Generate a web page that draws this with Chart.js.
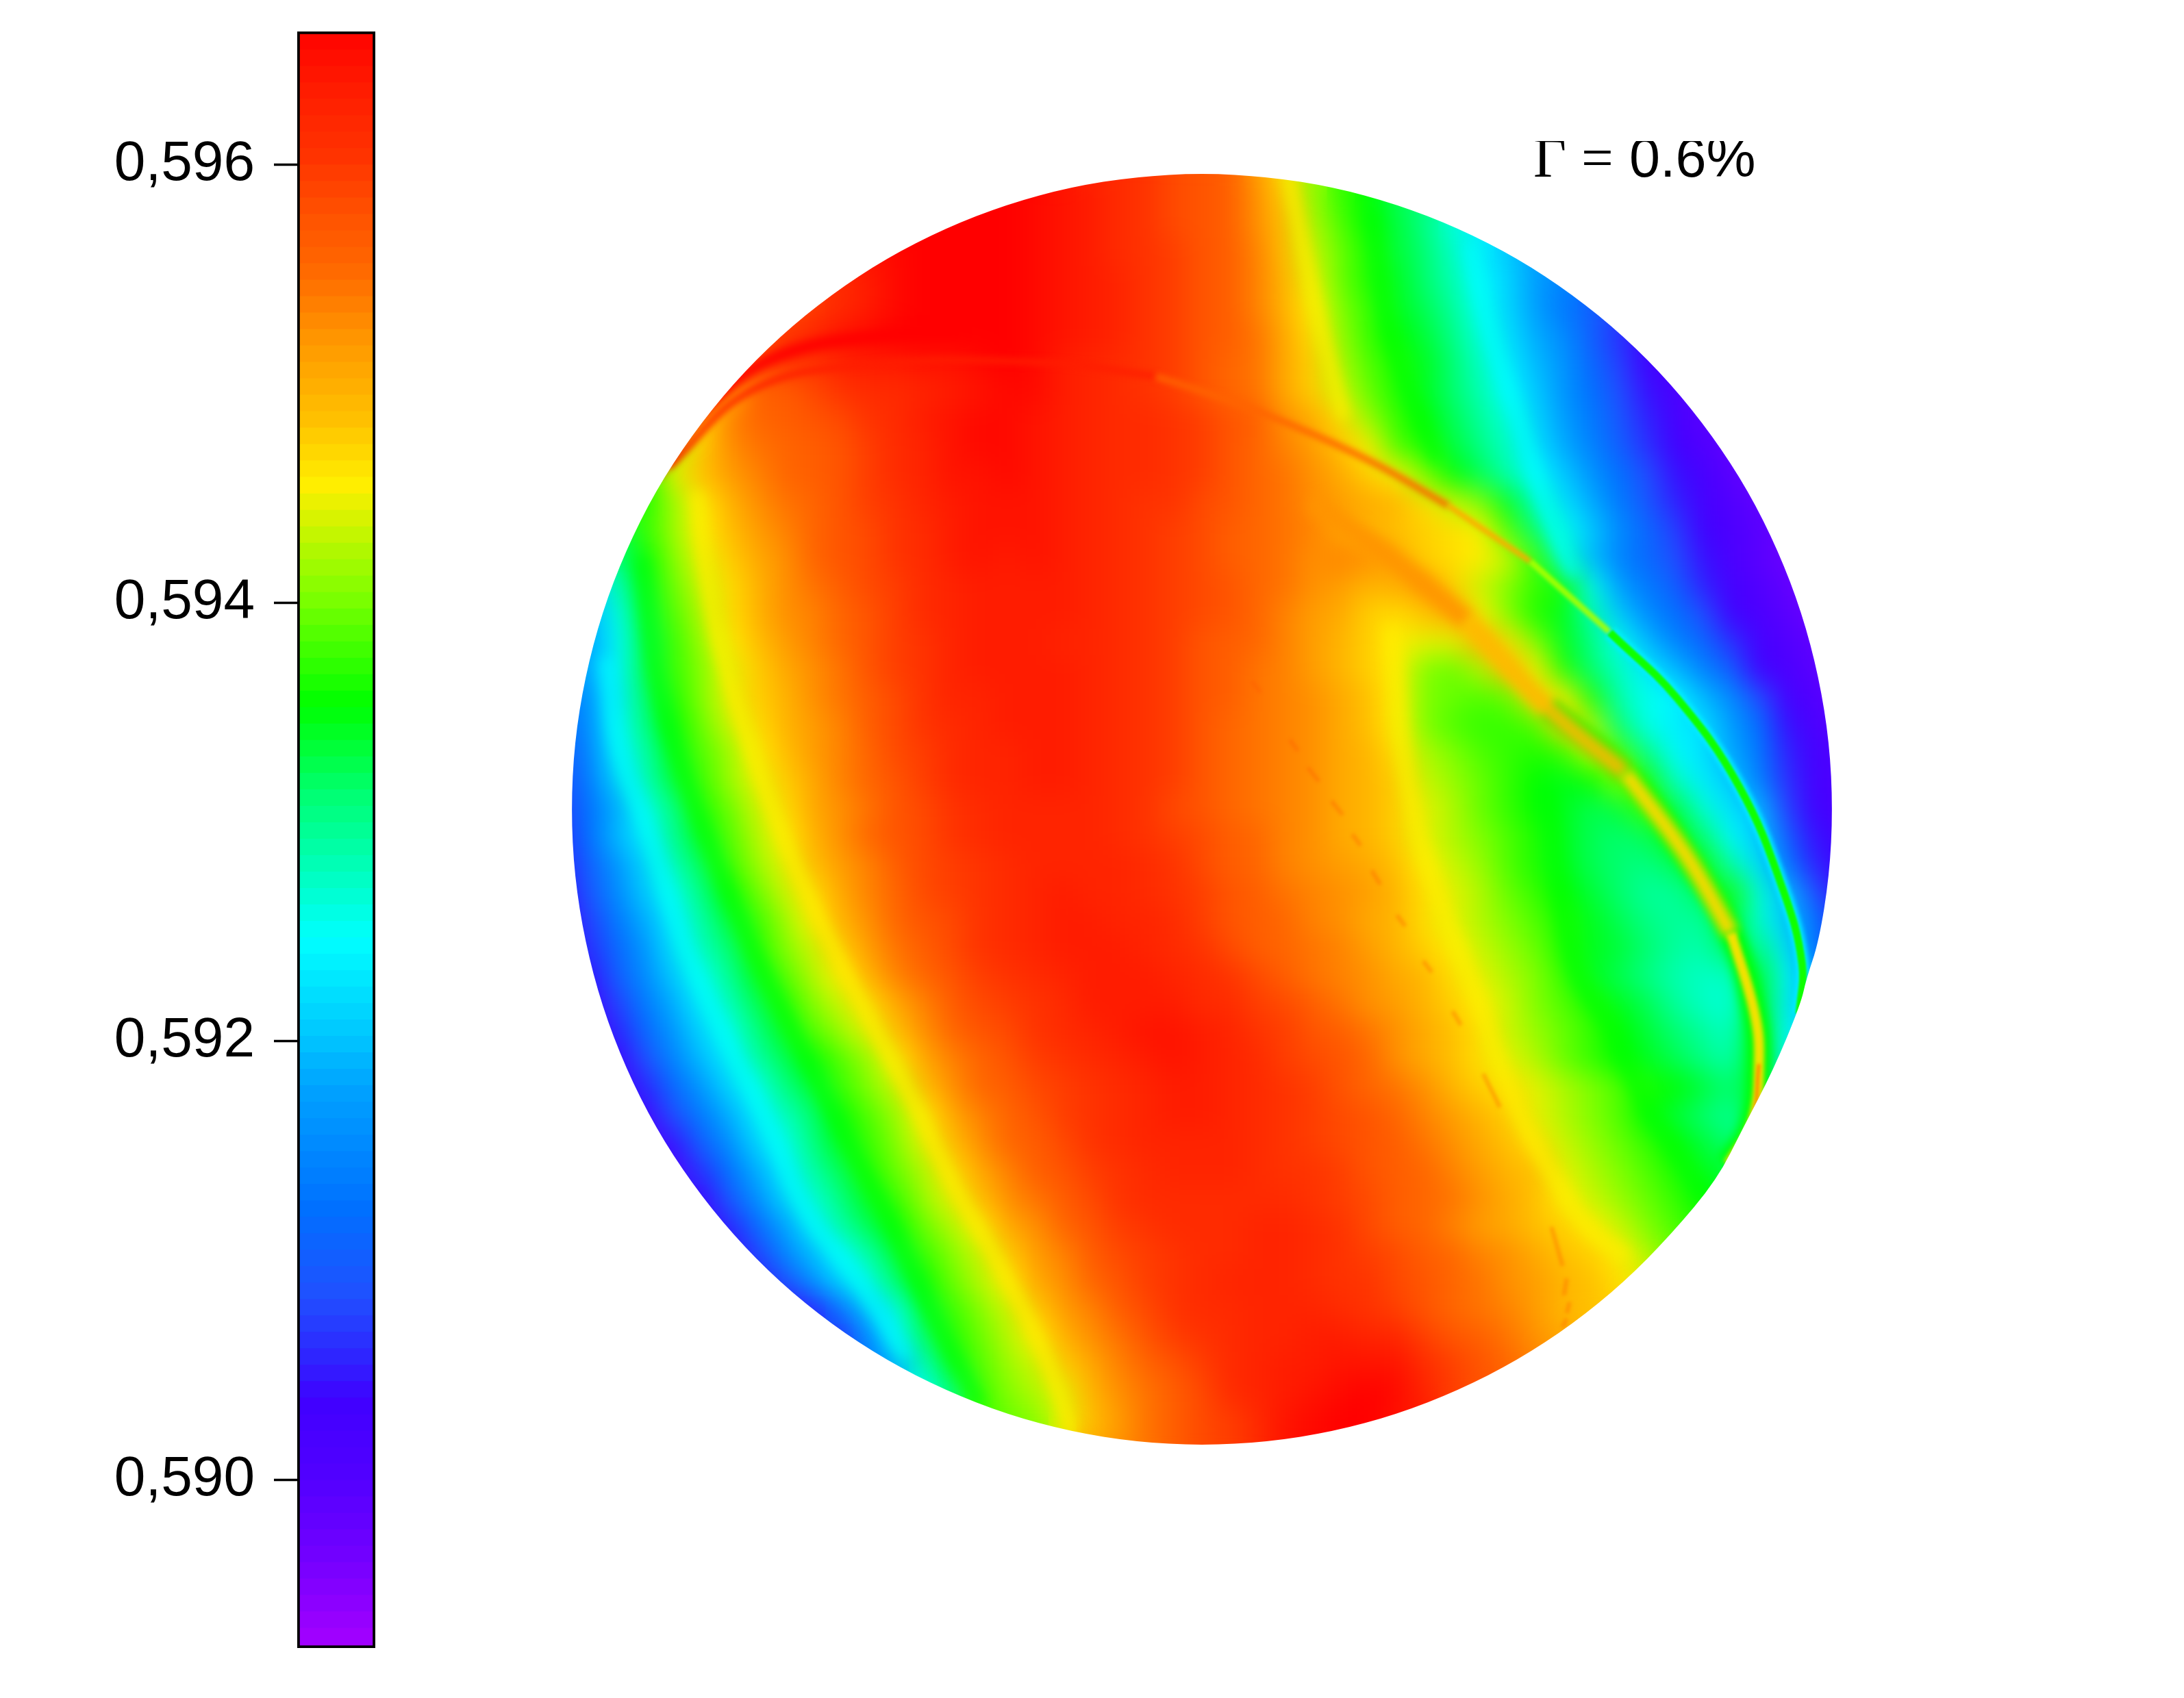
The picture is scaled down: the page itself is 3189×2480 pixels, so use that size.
<!doctype html>
<html lang="en">
  <head>
    <meta charset="utf-8">
    <title>Gamma 0.6% map</title>
    <style>
      * { margin: 0; padding: 0; }
      body { background: #fff; width: 3189px; height: 2480px; overflow: hidden; position: relative; }
      #barChart { position: absolute; left: 0; top: 0; }
      #discChart { position: absolute; left: 779px; top: 206px; }
    </style>
  </head>
  <body>
    <canvas id="barChart" width="620" height="2480"></canvas>
    <canvas id="discChart" width="1952" height="1952"></canvas>
    <script src="https://cdn.jsdelivr.net/npm/chart.js/dist/chart.umd.min.js"></script>
    <script>
// axis ticks of the colour bar
const tickValues = [0.590, 0.592, 0.594, 0.596];
const axisMin = 0.589232;
const axisMax = 0.596606;

// every level below = (value - 0.589) * 10000
const levelEdges = [2.5,3.25,4,4.75,5.5,6.25,7,7.75,8.5,9.25,10,10.75,11.5,12.25,13,13.75,14.5,15.25,16,16.75,17.5,18.25,19,19.75,20.5,21.25,22,22.75,23.5,24.25,25,25.75,26.5,27.25,28,28.75,29.5,30.25,31,31.75,32.5,33.25,34,34.75,35.5,36.25,37,37.75,38.5,39.25,40,40.75,41.5,42.25,43,43.75,44.5,45.25,46,46.75,47.5,48.25,49,49.75,50.5,51.25,52,52.75,53.5,54.25,55,55.75,56.5,57.25,58,58.75,59.5,60.25,61,61.75,62.5,63.25,64,64.75,65.5,66.25,67,67.75,68.5,69.25,70,70.75,71.5,72.25,73,73.75,74.5,75.25,76];
const stopLevels = [2.4,6.3,10,13.2,14.9,18,22,27.3,30,34.3,38,41,45,50,52,55,58,61.4,65,67,70,73,76];
const stopColors = ['#a000ff','#7000ff','#5000ff','#4000ff','#3020ff','#2050ff','#0070ff','#00a0ff','#00c8ff','#00ffff','#00ffb0','#00ff70','#00ff00','#80ff00','#b0f800','#ffee00','#ffc000','#ff9a00','#ff6600','#ff5500','#ff3300','#ff1c00','#ff0000'];

// each row is centred on column 0
const gridRows = [
[72,71,70,68,67,66,61,56,50],
[76,76,75,74,73,71,70,68,67,66,62,57,51,47,45,42,40],
[76,76,76,76,75,74,73,71,70,68,67,66,62,58,52,48,45,43,40,36,33],
[74,75,76,76,76,76,75,74,73,71,70,69,67,66,63,58,53,49,46,43,41,37,33,30,27],
[71,73,75,76,76,76,76,75,74,73,72,70,69,67,66,63,59,54,49,46,44,41,38,34,31,27,24],
[67,69,71,73,75,76,76,76,76,75,74,73,72,70,69,67,66,63,59,55,50,47,44,42,39,35,31,27,23,20,17],
[68,70,72,74,75,76,76,76,76,76,75,74,73,72,70,69,67,66,64,60,56,51,47,45,43,40,36,32,28,25,20,16,13],
[62,66,70,70,72,73,73,74,74,75,76,75,73,72,71,70,69,67,65,64,60,57,52,48,46,44,41,37,33,29,26,21,17,13,11],
[55,58,66,66,68,70,71,71,72,73,74,75,75,73,72,71,70,69,67,65,64,60,57,53,49,46,44,41,38,34,30,26,22,18,14,11,9],
[56,63,65,66,67,68,70,71,73,74,75,75,74,73,72,71,71,70,69,67,66,62,60,56,51,47,45,42,39,36,31,27,23,19,15,12,9],
[52,57,62,64,65,66,67,69,71,72,74,75,75,74,73,72,71,71,70,69,67,65,63,61,58,55,48,46,43,40,37,32,28,24,20,16,13,10,8],
[45,54,58,61,63,65,66,67,69,71,72,74,74,75,74,73,72,71,71,70,69,67,65,64,62,60,57,55,50,45,42,38,34,30,26,22,18,14,12,9,7],
[46,51,55,59,62,64,65,67,69,70,72,73,74,74,74,73,72,71,70,70,68,67,65,64,62,61,60,59,56,53,50,44,37,32,28,23,19,15,12,10,8],
[42,47,51,55,58,61,63,65,67,68,70,71,73,74,74,74,73,72,71,70,69,68,66,65,64,63,60,59,58,57,56,55,48,41,35,30,25,21,17,13,11,9,7],
[40,45,50,54,57,60,62,65,67,68,70,71,73,74,73,74,73,72,71,70,69,68,66,65,64,62,63,62,60,57,56,55,53,47,37,29,24,21,18,14,11,9,7],
[30,37,44,49,53,56,59,62,64,66,68,69,71,72,73,73,73,73,72,71,70,69,68,67,65,64,62,61,59,60,61,57,53,50,47,46,35,27,23,20,15,12,10,8,6],
[28,35,43,48,52,56,59,62,63,65,67,69,71,72,73,73,73,73,72,71,70,69,68,67,65,63,61,60,57,56,58,60,55,50,46,44,38,30,25,22,18,13,11,9,7],
[27,34,42,47,51,55,58,61,63,65,67,69,70,72,73,73,73,72,72,71,70,69,67,66,65,63,61,59,57,55,54,54,60,56,50,44,40,35,29,24,21,16,12,10,8],
[25,28,34,42,47,50,54,57,60,62,64,67,69,70,72,73,73,73,73,72,71,70,69,67,66,64,63,61,59,57,55,50,49,52,59,55,46,41,37,33,29,24,20,13,11,9,7],
[22,26,33,41,46,50,54,57,59,62,64,66,68,70,72,72,73,73,73,72,71,70,69,67,66,64,63,62,60,58,55,50,49,48,49,57,55,46,38,35,34,29,25,18,12,10,8],
[21,25,34,40,45,49,53,56,59,61,63,66,68,70,71,72,73,73,73,72,71,70,69,67,65,64,63,62,60,58,55,50,48,47,47,48,57,52,41,35,33,32,27,22,14,11,9],
[19,24,33,38,44,48,51,55,58,61,63,65,68,69,71,72,72,73,73,72,71,70,69,67,65,64,63,62,60,59,56,52,50,48,47,46,47,53,48,40,34,32,28,23,15,12,10],
[18,23,31,37,43,47,51,54,57,60,63,65,67,69,71,72,72,73,73,72,71,70,69,67,65,64,63,62,60,59,57,53,51,49,47,45,44,45,51,46,37,33,30,24,16,12,10],
[17,22,28,35,40,46,49,53,56,60,62,64,67,68,70,71,72,72,72,72,71,70,68,67,65,64,63,62,60,59,57,54,52,49,47,45,44,42,43,48,43,36,32,29,17,13,11],
[16,22,29,33,39,44,48,52,55,59,62,65,67,68,70,71,72,72,72,72,71,70,69,68,66,65,63,62,60,59,57,54,52,50,48,46,44,42,41,42,46,41,34,30,20,14,12],
[15,20,26,31,37,42,47,51,54,58,61,63,66,68,69,70,71,72,72,72,72,71,70,68,66,65,63,62,61,60,58,55,53,51,48,46,44,42,41,40,42,46,38,32,23,15,13],
[14,19,25,30,35,40,45,49,53,56,60,63,65,68,69,70,71,72,73,72,72,71,70,69,67,66,64,63,62,61,59,56,54,52,49,47,45,43,41,39,39,42,46,36,29,18,14],
[13,17,23,28,33,38,43,47,51,55,59,62,65,67,68,70,71,72,73,73,72,72,71,69,67,66,65,63,62,60,59,56,54,52,50,48,46,44,42,40,39,39,44,36,30,22,16],
[13,16,21,26,32,37,41,46,50,53,57,61,64,66,68,70,71,72,73,73,73,72,71,70,68,66,65,64,63,61,59,57,55,53,51,49,46,44,43,41,39,38,42,40,32,22,17],
[14,20,25,30,35,39,44,48,52,55,59,63,65,67,69,70,71,72,73,73,73,72,71,70,68,66,64,63,62,60,59,56,54,52,50,47,44,42,40,38,37,37,44,34,26],
[12,17,23,28,33,37,42,46,50,53,56,60,63,66,68,69,70,71,73,73,73,73,71,71,69,68,66,64,62,61,59,57,55,53,50,48,46,44,42,39,37,36,44,33,28],
[11,15,21,26,31,35,40,44,48,51,54,58,62,65,67,68,70,71,72,73,74,74,73,72,70,69,67,66,64,62,60,58,56,53,51,49,47,45,43,41,39,37,45,34,30],
[13,18,24,29,33,38,42,45,48,51,55,60,63,65,67,69,70,71,72,73,74,73,72,71,69,68,67,65,62,60,58,56,54,52,49,47,45,44,42,40,38,45,33],
[12,15,21,26,31,35,40,43,47,50,53,58,62,65,66,68,69,70,71,72,73,73,72,71,70,69,67,65,64,62,59,57,56,54,52,50,48,46,45,43,41,44,32],
[12,18,23,28,33,37,41,45,48,51,55,60,63,65,67,69,70,71,72,73,73,72,71,70,69,68,67,65,63,61,59,57,54,52,50,48,45,43,41,39,44],
[9,14,20,25,31,35,40,44,47,50,54,58,62,65,66,68,70,71,72,72,72,72,71,70,69,68,67,66,64,62,60,58,56,53,51,49,47,45,43,41,40],
[10,16,22,28,33,38,42,46,49,52,56,60,63,66,67,69,70,71,72,72,72,71,70,70,69,67,66,65,63,61,59,58,54,52,50,48,46,44,43],
[13,19,25,31,36,40,44,47,51,54,58,62,64,66,68,70,71,71,71,71,71,71,70,69,68,66,65,64,62,60,58,55,53,51,49,47,45],
[11,15,21,27,33,38,42,45,49,52,55,60,62,65,67,69,70,71,71,71,72,72,71,70,68,66,65,63,61,60,58,57,55,53,50,48,46],
[12,17,24,29,34,38,43,47,50,53,57,61,63,66,68,69,70,71,71,72,72,71,70,69,68,66,65,63,62,60,58,57,55,52,49],
[14,18,25,31,35,41,45,49,52,55,60,62,65,67,69,70,71,72,72,72,71,70,70,68,67,65,64,62,61,59,58,56,54],
[12,15,21,30,35,43,47,50,53,57,61,63,66,68,70,71,71,72,72,72,71,70,69,67,65,64,63,61,59,58,57],
[16,24,34,41,46,49,52,55,59,62,64,67,69,70,71,72,72,73,73,72,72,69,67,66,64,62,60],
[22,28,37,44,48,51,53,57,60,63,65,67,69,71,72,73,73,74,74,74,71,69,67,65,63],
[34,40,47,50,52,54,59,62,64,66,68,71,72,73,74,75,76,75,72,69,67],
[47,49,50,54,58,61,64,66,68,69,71,74,75,76,76,74,73],
[60,62,64,66,68,69,71,74,75]
];

// colour stripes followed across the disc
const yellowLeftX = [-18.15,-17.65,-16.9,-15.15,-13.45,-11.7,-10.15,-8.9,-7.3,-5.75,-4.65];
const yellowLeftY = [-11.4,-7.45,-4.35,0.75,4.55,8,10.95,13.55,16.35,19.4,22.45];
const greenLeftX = [-20.15,-19.55,-18.6,-17.85,-16.25,-14.7,-12.95,-11.4,-9.65,-7.95];
const greenLeftY = [-9.05,-4.35,-1.2,0.9,4.8,8,11.55,14.45,18.25,21.45];
const cyanLeftX = [-21.4,-20.95,-19.85,-18.6,-17.2,-15.6,-14.2,-12.35,-10.6];
const cyanLeftY = [-5.45,-2.3,0.9,4.8,8,11.25,14.45,16.9,19.7];
const yellowTopX = [3.1,4.1,5.1];
const yellowTopY = [-22.8,-18.05,-14.05];
const greenTopX = [6.1,6.75,8.45];
const greenTopY = [-21.55,-17.05,-12.5];
const cyanTopX = [9.6,10.35,11.25,12.4,13.35];
const cyanTopY = [-20.3,-17.05,-14.3,-10.7,-8.35];
const yellowRightX = [6.75,7.45,8.45,9.7,11.4,13.05,14,15.3];
const yellowRightY = [-6.55,-0.6,3,6.25,10.95,13.85,15.15,16.1];
const greenRightX = [12.4,13.35,14.75,15.9,17.05,18.05];
const greenRightY = [-0.8,5.55,8,10.6,12.35,13.95];

// sharp ridges that are narrower than a grid cell
const arcOneX = [-1.65,0.35,2.5,6.05,8.85,11.8,14.65,17.05,19.3,20.85,21.55,21.45];
const arcOneY = [-15.55,-14.9,-14.1,-12.5,-10.9,-8.9,-6.35,-4,-0.8,2.85,5.55,7.35];
const arcTwoX = [3.95,6.75,9.55,12.4,15.2,17.35,19,19.85,20,19.75,18.9];
const arcTwoY = [-11.05,-9.05,-6.75,-3.65,-1.3,1.6,4.45,7.35,9.15,11.3,12.75];
const crestOneX = [-19.65,-17.65,-15.15,-11.15,-8.65];
const crestOneY = [-12.05,-14.55,-16.3,-17.05,-17.15];
const crestTwoX = [-19.15,-16.15,-12.15,-5.65,-1.65];
const crestTwoY = [-12.3,-15.05,-15.95,-16.05,-15.55];
const streakX = [1.8,2.1,null,3.15,3.45,null,3.8,4.2,null,4.65,5.05,null,5.4,5.7,null,6.1,6.4,null,7,7.3,null,7.95,8.25,null,9,9.3,null,10.1,10.7,null,12.55,12.95,null,13.1,13,null,13.2,13.1,null,13.1,12.95];
const streakY = [-4.6,-4.2,null,-2.5,-2.1,null,-1.5,-1,null,-0.3,0.2,null,0.9,1.3,null,2.2,2.7,null,3.8,4.2,null,5.45,5.85,null,7.25,7.75,null,9.5,10.7,null,15,16.4,null,16.85,17.45,null,17.7,18.1,null,18.3,18.6];

// outline of the disc
const rimX = [22.65,22.53,22.15,21.7,21.5,20.5,19.45,18.5,16.83,15.16,13.31,11.33,9.21,7,4.71,2.37,0,-2.37,-4.71,-7,-9.21,-11.33,-13.31,-15.16,-16.83,-18.32,-19.62,-20.69,-21.54,-22.15,-22.53,-22.65,-22.53,-22.15,-21.54,-20.69,-19.62,-18.32,-16.83,-15.16,-13.31,-11.33,-9.21,-7,-4.71,-2.37,0,2.37,4.71,7,9.21,11.33,13.31,15.16,16.83,18.32,19.62,20.69,21.54,22.15,22.53];
const rimY = [0,2.39,4.75,6.1,7,9.4,11.4,13.3,15.29,16.98,18.49,19.79,20.87,21.73,22.35,22.72,22.85,22.72,22.35,21.73,20.87,19.79,18.49,16.98,15.29,13.43,11.43,9.29,7.06,4.75,2.39,0,-2.39,-4.75,-7.06,-9.29,-11.43,-13.43,-15.29,-16.98,-18.49,-19.79,-20.87,-21.73,-22.35,-22.72,-22.85,-22.72,-22.35,-21.73,-20.87,-19.79,-18.49,-16.98,-15.29,-13.43,-11.43,-9.29,-7.06,-4.75,-2.39];

function hexToRgb(hex) {
  return [1, 3, 5].map(i => parseInt(hex.slice(i, i + 2), 16));
}

function colorFor(level) {
  let i = 0;
  while (i < stopLevels.length - 2 && level > stopLevels[i + 1]) i++;
  const t = Math.min(1, Math.max(0, (level - stopLevels[i]) / (stopLevels[i + 1] - stopLevels[i])));
  const a = hexToRgb(stopColors[i]);
  const b = hexToRgb(stopColors[i + 1]);
  const c = a.map((v, k) => Math.round(v + (b[k] - v) * t));
  return 'rgb(' + c.join(',') + ')';
}

const levelToValue = level => 0.589 + level * 1e-4;
const zip = (xs, ys, from, to) => xs.slice(from, to).map((x, i) => ({ x: x, y: ys[from + i] }));

// colour bar
const barDatasets = levelEdges.slice(0, -1).map((edge, i) => ({
  data: [[levelToValue(edge), axisMax]],
  backgroundColor: colorFor(edge),
  borderWidth: 0,
  order: levelEdges.length - i
}));
barDatasets[0].data = [[axisMin, axisMax]];
barDatasets.push({
  data: [[axisMin, axisMax]],
  backgroundColor: 'rgba(0,0,0,0)',
  borderColor: '#000',
  borderWidth: 3.5,
  borderSkipped: false,
  order: -1
});

new Chart(document.getElementById('barChart'), {
  type: 'bar',
  data: { labels: [''], datasets: barDatasets },
  options: {
    responsive: false,
    animation: false,
    events: [],
    layout: { autoPadding: false, padding: { top: 46, bottom: 73, right: 72 } },
    datasets: { bar: { barPercentage: 1, categoryPercentage: 1, grouped: false } },
    plugins: { legend: { display: false }, tooltip: { enabled: false } },
    scales: {
      x: { display: false },
      y: {
        min: axisMin,
        max: axisMax,
        afterBuildTicks: axis => { axis.ticks = tickValues.map(v => ({ value: v })); },
        afterFit: axis => { axis.width = 434; axis.paddingTop = 0; axis.paddingBottom = 0; },
        border: { display: false },
        grid: { drawOnChartArea: false, tickLength: 34, tickWidth: 3.5, tickColor: '#000' },
        ticks: {
          padding: 28,
          color: '#000',
          font: { family: '"Liberation Sans"', size: 82 },
          callback: v => v.toFixed(3).replace('.', ',')
        }
      }
    }
  }
});

// grid cells of the disc
const cellPoints = [];
const cellColors = [];
gridRows.forEach((row, r) => {
  const first = -(row.length - 1) / 2;
  row.forEach((level, c) => {
    cellPoints.push({ x: first + c, y: r - 23 });
    cellColors.push(colorFor(level));
  });
});

function ridge(points, color, width, blur) {
  return {
    data: points,
    showLine: true,
    tension: 0.4,
    borderColor: color,
    borderWidth: width,
    borderCapStyle: 'butt',
    pointRadius: 0,
    blur: blur
  };
}

const discDatasets = [
  {
    data: cellPoints,
    pointStyle: 'rect',
    pointRadius: 29.5,
    pointBorderWidth: 0,
    pointBackgroundColor: cellColors
  },
  ridge(zip(cyanLeftX, cyanLeftY, 0), 'rgba(0,255,255,0.7)', 18, 10),
  ridge(zip(greenLeftX, greenLeftY, 0), 'rgba(0,255,0,0.7)', 18, 10),
  ridge(zip(yellowLeftX, yellowLeftY, 0), 'rgba(255,238,0,0.8)', 16, 9),
  ridge(zip(cyanTopX, cyanTopY, 0), 'rgba(0,255,255,0.7)', 18, 10),
  ridge(zip(greenTopX, greenTopY, 0), 'rgba(0,255,0,0.7)', 18, 10),
  ridge(zip(yellowTopX, yellowTopY, 0), 'rgba(255,238,0,0.8)', 16, 9),
  ridge(zip(greenRightX, greenRightY, 0), 'rgba(0,255,0,0.7)', 22, 11),
  ridge(zip(yellowRightX, yellowRightY, 0), 'rgba(255,238,0,0.8)', 18, 10),
  ridge(zip(crestOneX, crestOneY, 0), '#ff0000', 18, 7),
  ridge(zip(crestTwoX, crestTwoY, 0), 'rgba(255,30,0,0.75)', 11, 4),
  ridge(zip(arcOneX, arcOneY, 0, 5), 'rgba(255,100,0,0.85)', 10, 4),
  ridge(zip(arcOneX, arcOneY, 4, 6), 'rgba(255,170,0,0.9)', 8, 3),
  ridge(zip(arcOneX, arcOneY, 5, 7), 'rgba(170,255,0,0.9)', 9, 2.5),
  ridge(zip(arcOneX, arcOneY, 6, 12), 'rgba(0,240,255,0.9)', 20, 3),
  ridge(zip(arcOneX, arcOneY, 6, 12), '#10ff00', 11, 1.5),
  ridge(zip(arcTwoX, arcTwoY, 0, 3), 'rgba(255,148,0,0.9)', 30, 9),
  ridge(zip(arcTwoX, arcTwoY, 3, 11), 'rgba(0,255,0,0.9)', 34, 7),
  ridge(zip(arcTwoX, arcTwoY, 2, 5), 'rgba(255,184,0,0.9)', 28, 8),
  ridge(zip(arcTwoX, arcTwoY, 4, 7), 'rgba(255,216,0,0.95)', 24, 7),
  ridge(zip(arcTwoX, arcTwoY, 6, 11), 'rgba(255,224,0,0.95)', 15, 3),
  ridge(zip(arcTwoX, arcTwoY, 8, 11), 'rgba(255,90,0,0.6)', 5, 2),
  ridge(zip(streakX, streakY, 0), 'rgba(255,90,0,0.35)', 6, 2.5)
];
discDatasets.forEach((d, i) => { d.order = 100 - i; d.clip = false; });

// soften the grid cells, then cut the result to the disc outline
const discPlugin = {
  id: 'discPlugin',
  beforeDatasetDraw(chart, args) {
    const blur = chart.data.datasets[args.index].blur;
    if (blur) chart.ctx.filter = 'blur(' + blur + 'px)';
  },
  afterDatasetDraw(chart, args) {
    chart.ctx.filter = 'none';
    if (args.index !== 0) return;
    const tmp = document.createElement('canvas');
    tmp.width = chart.width;
    tmp.height = chart.height;
    const tctx = tmp.getContext('2d');
    tctx.filter = 'blur(20px)';
    tctx.drawImage(chart.canvas, 0, 0);
    chart.ctx.drawImage(tmp, 0, 0);
  },
  afterDatasetsDraw(chart) {
    const ctx = chart.ctx;
    const xs = chart.scales.x;
    const ys = chart.scales.y;
    const px = i => xs.getPixelForValue(rimX[i % rimX.length]);
    const py = i => ys.getPixelForValue(rimY[i % rimY.length]);
    ctx.save();
    ctx.globalCompositeOperation = 'destination-in';
    ctx.beginPath();
    ctx.moveTo((px(0) + px(1)) / 2, (py(0) + py(1)) / 2);
    for (let i = 1; i <= rimX.length; i++) {
      ctx.quadraticCurveTo(px(i), py(i), (px(i) + px(i + 1)) / 2, (py(i) + py(i + 1)) / 2);
    }
    ctx.closePath();
    ctx.fill();
    ctx.restore();

    ctx.save();
    ctx.fillStyle = '#000';
    ctx.textBaseline = 'alphabetic';
    ctx.font = '83px "Liberation Serif"';
    ctx.fillText('Γ', 1460, 52);
    ctx.fillText('=', 1530, 52);
    ctx.font = '81px "Liberation Sans"';
    ctx.fillText('0.6%', 1600, 52);
    ctx.restore();
  }
};

new Chart(document.getElementById('discChart'), {
  type: 'scatter',
  data: { datasets: discDatasets },
  options: {
    responsive: false,
    animation: false,
    events: [],
    layout: { autoPadding: false, padding: 0 },
    plugins: { legend: { display: false }, tooltip: { enabled: false } },
    scales: {
      x: { display: false, min: -24, max: 24 },
      y: { display: false, min: -24, max: 24, reverse: true }
    }
  },
  plugins: [discPlugin]
});
    </script>
  </body>
</html>
